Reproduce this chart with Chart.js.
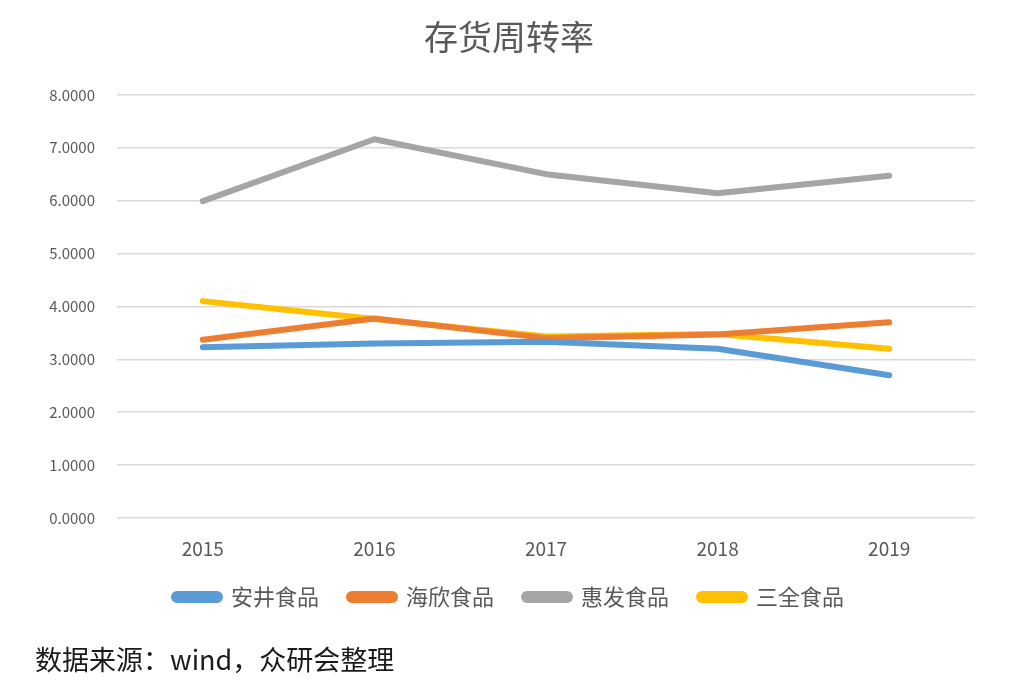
<!DOCTYPE html>
<html>
<head>
<meta charset="utf-8">
<script src="https://cdn.jsdelivr.net/npm/chart.js@4/dist/chart.umd.min.js"></script>
<style>
    body { margin: 0; background: #fff; }
    #wrap { position: relative; width: 1018px; height: 683px; }
    #source {
        position: absolute; left: 35px; top: 643px;
        font-family: "Noto Sans CJK SC", "Noto Sans", sans-serif;
        font-size: 27px; line-height: 32px; color: #1a1a1a;
    }
</style>
</head>
<body>
<div id="wrap">
    <canvas id="chart"></canvas>
    <div id="source">数据来源：wind，众研会整理</div>
</div>
<script>
// Data
const years = ['2015', '2016', '2017', '2018', '2019'];
const anjing = [3.23, 3.30, 3.33, 3.20, 2.70];
const haixin = [3.37, 3.77, 3.40, 3.47, 3.70];
const huifa = [5.99, 7.16, 6.50, 6.14, 6.47];
const sanquan = [4.10, 3.76, 3.43, 3.48, 3.20];

const font = '"Noto Sans CJK SC", "Noto Sans", sans-serif';

function series(label, data, color) {
    return {
        label: label,
        data: data,
        borderColor: color,
        backgroundColor: color,
        borderWidth: 6,
        borderCapStyle: 'round',
        borderJoinStyle: 'round',
        pointRadius: 0,
        tension: 0
    };
}

new Chart(document.getElementById('chart').getContext('2d'), {
    type: 'line',
    data: {
        labels: years,
        datasets: [
            series('安井食品', anjing, '#5B9BD5'),
            series('海欣食品', haixin, '#ED7D31'),
            series('惠发食品', huifa, '#A5A5A5'),
            series('三全食品', sanquan, '#FFC000')
        ]
    },
    options: {
        responsive: true,
        maintainAspectRatio: false,
        animation: false,
        layout: { padding: { left: 0, right: 0, top: 0, bottom: 65 } },
        plugins: {
            title: {
                display: true,
                text: '存货周转率',
                color: '#595959',
                font: { family: font, size: 34, weight: 'normal' },
                padding: { top: 17, bottom: 37 }
            },
            legend: {
                position: 'bottom',
                labels: {
                    color: '#595959',
                    font: { family: font, size: 22 },
                    boxWidth: 46,
                    boxHeight: 6,
                    useBorderRadius: true,
                    borderRadius: 3,
                    padding: 30
                }
            },
            tooltip: { enabled: false }
        },
        scales: {
            x: {
                offset: true,
                grid: { display: false, drawTicks: false },
                border: { display: false },
                ticks: {
                    color: '#595959',
                    font: { family: font, size: 19 },
                    padding: 19
                },
                // chart.js counts tick padding twice; keep the axis tight
                afterFit: scale => { scale.height = 38; }
            },
            y: {
                min: 0,
                max: 8,
                border: { display: false },
                grid: { color: '#D9D9D9', lineWidth: 1.5, drawTicks: false },
                ticks: {
                    stepSize: 1,
                    color: '#595959',
                    font: { family: font, size: 15 },
                    padding: 22,
                    callback: v => v.toFixed(4)
                },
                afterFit: scale => { scale.width = 117; }
            },
            // empty right axis, only to leave a margin right of the plot
            yRight: {
                position: 'right',
                min: 0,
                max: 1,
                grid: { display: false, drawTicks: false },
                border: { display: false },
                ticks: { display: false },
                afterFit: scale => { scale.width = 43; }
            }
        }
    }
});
</script>
</body>
</html>
